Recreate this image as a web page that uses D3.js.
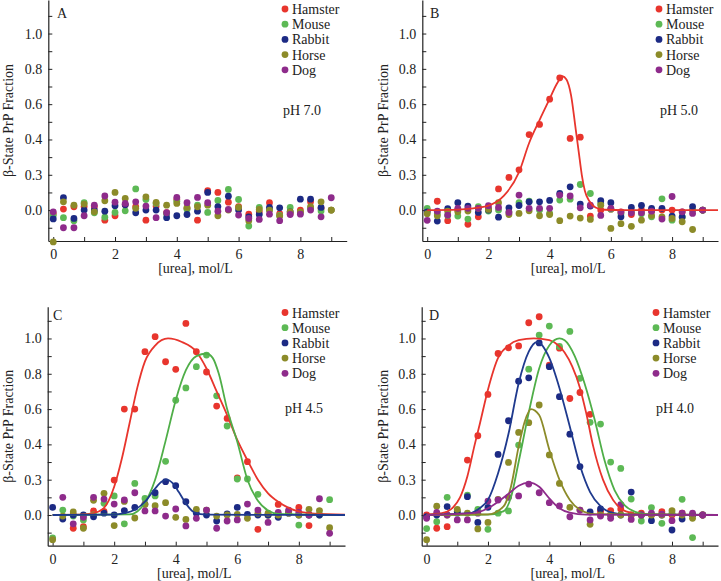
<!DOCTYPE html>
<html><head><meta charset="utf-8">
<script src="https://cdn.jsdelivr.net/npm/d3@7"></script>
<style>body{margin:0;background:#fff}svg{display:block}text{font-family:"Liberation Serif","Times New Roman",serif;fill:#222}</style>
</head><body>
<svg id="c" width="721" height="581"></svg>
<script>
// ---------- data ----------
const species = ["Hamster","Mouse","Rabbit","Horse","Dog"];
const urea = [0,0.33,0.67,1,1.33,1.67,2,2.33,2.67,3,3.33,3.67,4,4.33,4.67,5,5.33,5.67,6,6.33,6.67,7,7.33,7.67,8,8.33,8.67,9];
const yTickVals = [-0.1,0,0.1,0.2,0.3,0.4,0.5,0.6,0.7,0.8,0.9,1.0,1.1];
const yLabelVals = [0,0.2,0.4,0.6,0.8,1.0];
const yLabels = ["0.0","0.3","0.4","0.6","0.8","1.0"];
const xTickVals = [0,1,2,3,4,5,6,7,8,9];
const xLabels = ["0","","2","","4","","6","","8",""];
const panelLetters = ["A","B","C","D"];
const phLabels = ["pH 7.0","pH 5.0","pH 4.5","pH 4.0"];

// Panel A (pH 7.0)
const A_hamster = [-0.02,0.006,0.019,0.02,0.019,-0.057,-0.032,0.03,0.02,-0.057,0.023,-0.015,0.06,0.01,-0.057,0.11,0.1,0.045,0.019,-0.023,-0.01,0.042,-0.02,-0.02,0,0.047,0.01,0];
const A_mouse = [-0.03,-0.043,-0.06,0.042,-0.015,-0.04,-0.013,-0.004,0.12,0.06,0.038,-0.02,0.05,0.005,0.028,-0.013,0.055,0.117,0.06,-0.09,0.015,0,-0.03,0.015,-0.015,0.01,-0.005,0];
const A_rabbit = [-0.05,0.07,-0.047,0,0,-0.006,0.025,0.03,-0.015,0,0,-0.043,-0.032,-0.025,-0.006,0.1,0.02,0.079,0,-0.038,-0.025,0.015,0.013,-0.01,0.062,0.062,0.015,null];
const A_horse = [-0.18,0.047,0.028,0.034,-0.01,0.053,0.1,0.066,0.01,0.075,0.043,0.028,0.038,0.015,0.019,0.028,-0.032,0,0.015,-0.06,0.004,0,-0.034,-0.01,-0.01,0.019,0.047,0];
const A_dog = [-0.01,-0.1,-0.1,-0.032,0.028,0.08,0.045,0.038,0.047,0.023,-0.043,-0.015,0.072,0.042,0.072,0.042,-0.006,0.004,-0.028,-0.047,-0.053,-0.023,-0.06,-0.025,-0.023,0,-0.038,0.07];

// Panel B (pH 5.0)
const B_hamster = [0,0.05,-0.06,0,-0.08,-0.038,0.01,0.12,0.185,0.228,0.428,0.485,0.628,0.749,0.406,0.413,-0.034,0,0.005,-0.01,-0.025,0,-0.005,0,0,-0.01,0,0];
const B_mouse = [0.01,-0.02,-0.03,-0.034,-0.051,0.02,-0.005,0,-0.01,0.042,0.05,0,-0.019,0.057,0.062,0.145,0.094,0.038,0.005,-0.02,-0.01,-0.02,-0.038,0.064,-0.057,-0.04,0,0];
const B_rabbit = [-0.01,-0.062,0.008,0.042,0.023,-0.013,0,-0.04,0.013,0.026,0.047,0.047,0.055,0.094,0.132,0.034,0.023,0.053,0.042,-0.038,0.015,0.026,0.01,0.01,-0.034,-0.038,0.02,0];
const B_horse = [-0.02,-0.032,-0.006,-0.01,-0.005,0.01,0.004,0.042,-0.025,-0.019,-0.004,-0.032,-0.025,-0.06,-0.034,-0.045,-0.053,0.028,-0.104,-0.077,-0.092,-0.057,-0.03,-0.038,-0.047,-0.066,-0.11,0];
const B_dog = [-0.058,-0.006,-0.028,0.01,0.01,0.01,0.025,0.015,-0.013,0.085,0.01,0.01,0.01,0.085,0.08,0.013,0.028,-0.03,0.01,-0.011,-0.015,-0.015,-0.006,-0.051,0.077,-0.01,-0.019,0];

// Panel C (pH 4.5)
const C_hamster = [null,null,-0.075,-0.066,0.023,0.02,0.198,0.6,0.6,0.925,1.01,0.868,0.825,1.085,0.925,0.81,0.617,0.547,0.21,0.302,-0.081,0,0.06,0.02,0.043,-0.06,null,null];
const C_mouse = [-0.13,0.028,-0.006,-0.028,0,0.066,0.108,-0.05,0.179,0.094,0.108,0.304,0.65,0.72,0.84,0.906,0.675,0.504,0.204,0.204,0.117,0,0,0.019,-0.057,0,0,0.087];
const C_rabbit = [0.043,-0.023,0,0,-0.01,0.01,0,0.025,0.043,0.062,0.126,0.189,0.166,0.075,0.01,0,-0.034,0.006,0.043,0.004,0,0,-0.013,0.01,0,0,0,null];
const C_horse = [-0.14,-0.006,0.017,-0.075,0.083,0.123,-0.06,0.077,-0.017,0.06,0.053,0.07,-0.013,-0.025,0.032,0.028,-0.006,0,0.004,-0.019,0.01,0.01,0,0.01,0,0.032,0.025,-0.072];
const C_dog = [null,0.1,-0.05,-0.013,0.1,0.09,0.062,0.085,0.126,0.023,0.023,-0.006,0.034,-0.062,-0.019,0.028,-0.075,-0.034,-0.028,0.062,0.028,-0.042,0.015,0.028,0.015,0,0.092,-0.104];

// Panel D (pH 4.0)
const D_hamster = [0,-0.075,-0.066,0.02,0.311,0.449,0.683,0.915,0.947,0.958,1.089,1.123,0.849,0.945,0.66,0.694,0.57,0.02,0.025,0.034,0,0.01,0,0.019,0,0.01,0,0];
const D_mouse = [-0.077,-0.038,0.1,0.023,0.113,0.032,-0.081,0.01,0.023,0.396,0.826,1.019,1.07,0.955,1.04,0.774,0.525,0.515,0.3,0.264,0.09,-0.034,0.042,-0.047,0.01,0.089,-0.128,null];
const D_rabbit = [-0.01,0,0.047,0.01,0.104,-0.042,0.043,0.343,0.534,0.758,0.777,0.975,0.84,0.67,0.458,0.274,0.017,0.034,0,0,0.13,0,-0.032,0,-0.085,-0.023,0,0];
const D_horse = [-0.14,0.05,0,0.032,0.01,-0.079,-0.042,0.089,0.298,0.468,0.523,0.623,0.34,0.179,0.043,0.028,-0.053,0,0,0,0,0,0,0,0.025,0,-0.019,0];
const D_dog = [-0.019,0.015,0,-0.028,-0.028,0.01,0.079,0.085,0.1,0.108,0.175,0.126,0.07,0.051,-0.01,0.028,-0.028,-0.006,-0.019,0.058,-0.025,0,0.01,0.005,-0.032,0.01,0.01,0];

// fitted curves as [urea, fraction]
const B_fitHamster = [[0,0],[1,0.003],[1.5,0.01],[2,0.025],[2.5,0.08],[3,0.215],[3.33,0.38],[3.67,0.51],[4,0.63],[4.25,0.72],[4.42,0.758],[4.55,0.74],[4.7,0.65],[4.85,0.46],[4.95,0.33],[5.05,0.2],[5.15,0.11],[5.3,0.05],[5.5,0.015],[5.8,0.002],[6.5,0],[9.5,0]];
const C_fitHamster = [[0,0],[1,0.003],[1.33,0.01],[1.67,0.04],[2,0.16],[2.25,0.32],[2.5,0.52],[2.75,0.72],[3,0.87],[3.33,0.96],[3.75,1.0],[4.2,0.98],[4.67,0.925],[5,0.83],[5.33,0.7],[5.67,0.566],[6,0.425],[6.33,0.31],[6.67,0.2],[7,0.123],[7.33,0.075],[7.67,0.04],[8,0.02],[8.5,0.008],[9.5,0.002]];
const C_fitMouse = [[0,0],[2.5,0.003],[2.75,0.02],[3,0.07],[3.33,0.2],[3.67,0.42],[4,0.65],[4.33,0.82],[4.67,0.9],[5,0.915],[5.2,0.89],[5.4,0.8],[5.67,0.6],[6,0.415],[6.33,0.2],[6.67,0.08],[7,0.025],[7.33,0.006],[9.5,0]];
const C_fitRabbit = [[0,0],[2,0.002],[2.33,0.01],[2.67,0.03],[3,0.075],[3.33,0.15],[3.55,0.19],[3.7,0.2],[3.9,0.18],[4.1,0.13],[4.33,0.065],[4.6,0.015],[5,0.002],[9.5,0]];
const D_fitHamster = [[0,0.003],[0.5,0.01],[0.87,0.045],[1.09,0.1],[1.33,0.22],[1.57,0.4],[1.74,0.52],[2,0.71],[2.33,0.89],[2.67,0.96],[3,0.99],[3.5,1.0],[4,0.99],[4.3,0.96],[4.5,0.92],[4.75,0.84],[5,0.72],[5.2,0.58],[5.43,0.39],[5.75,0.2],[6.08,0.085],[6.5,0.02],[7,0.003],[9.5,0]];
const D_fitMouse = [[0,0],[2,0.002],[2.5,0.02],[2.75,0.1],[3,0.3],[3.33,0.58],[3.67,0.83],[4,0.96],[4.33,1.0],[4.5,0.99],[4.83,0.9],[5.15,0.745],[5.48,0.54],[5.8,0.31],[6.13,0.14],[6.46,0.055],[6.8,0.018],[7.2,0.004],[9.5,0]];
const D_fitRabbit = [[0,0],[1.41,0.01],[1.74,0.04],[2,0.085],[2.33,0.236],[2.67,0.46],[3,0.745],[3.33,0.925],[3.6,0.98],[4,0.89],[4.33,0.72],[4.67,0.5],[5,0.28],[5.33,0.13],[5.67,0.05],[6,0.015],[6.5,0.003],[9.5,0]];
const D_fitHorse = [[0,0],[2,0.003],[2.5,0.047],[2.75,0.16],[3,0.387],[3.2,0.53],[3.4,0.6],[3.67,0.566],[4,0.37],[4.33,0.2],[4.67,0.085],[5,0.03],[5.5,0.005],[9.5,0]];
const D_fitDog = [[0,0],[1.5,0.01],[2,0.038],[2.33,0.075],[2.67,0.12],[3,0.166],[3.35,0.183],[3.67,0.16],[4,0.094],[4.33,0.038],[4.67,0.013],[5.2,0.002],[9.5,0]];

// ---------- styling / layout ----------
const dotColors = ["#e8352d","#5db955","#1c2a84","#8c8b29","#8e2b8b"];
const lineColors = ["#e8352d","#4fae48","#1f3a8e","#8c8b29","#8e2b8b"];
const panels = [
  {series:[A_hamster,A_mouse,A_rabbit,A_horse,A_dog], fits:[],
   left:48.3, right:346.7, top:0, bottom:241, ydom:[-0.175,1.19], ytitleX:13, legX:285, legY:9, phX:283, phY:115, letX:57, letY:18},
  {series:[B_hamster,B_mouse,B_rabbit,B_horse,B_dog], fits:[[0,B_fitHamster]],
   left:422.3, right:718, top:0, bottom:241, ydom:[-0.175,1.19], ytitleX:388, legX:659, legY:9, phX:660, phY:115, letX:430, letY:18},
  {series:[C_hamster,C_mouse,C_rabbit,C_horse,C_dog], fits:[[0,C_fitHamster],[1,C_fitMouse],[2,C_fitRabbit]],
   left:47.7, right:345, top:306.7, bottom:545.7, ydom:[-0.174,1.18], ytitleX:13, legX:285, legY:312.5, phX:285, phY:413, letX:53, letY:320},
  {series:[D_hamster,D_mouse,D_rabbit,D_horse,D_dog], fits:[[0,D_fitHamster],[1,D_fitMouse],[2,D_fitRabbit],[3,D_fitHorse],[4,D_fitDog]],
   left:421.7, right:718, top:306.7, bottom:545.7, ydom:[-0.174,1.18], ytitleX:388, legX:656, legY:312.5, phX:656, phY:413, letX:429, letY:320}
];

const svg = d3.select("#c");
panels.forEach((p, pi) => {
  const g = svg.append("g");
  const x = d3.scaleLinear().domain([-0.16, 9.5]).range([p.left, p.right]);
  const y = d3.scaleLinear().domain(p.ydom).range([p.bottom, p.top]);

  const fmtY = v => { const i = yLabelVals.findIndex(t => Math.abs(t - v) < 1e-6); return i < 0 ? "" : yLabels[i]; };
  const fmtX = v => { const i = xTickVals.indexOf(v); return i < 0 ? "" : xLabels[i]; };

  const ya = g.append("g").attr("transform", `translate(${p.left},0)`)
    .call(d3.axisLeft(y).tickValues(yTickVals).tickFormat(fmtY).tickSizeInner(-4).tickSizeOuter(0).tickPadding(6));
  const xa = g.append("g").attr("transform", `translate(0,${p.bottom})`)
    .call(d3.axisBottom(x).tickValues(xTickVals).tickFormat(fmtX).tickSizeInner(-4).tickSizeOuter(0).tickPadding(8));
  [ya, xa].forEach(a => {
    a.select(".domain").attr("stroke", "#222").attr("stroke-width", 1.2);
    a.selectAll(".tick line").attr("stroke", "#222");
    a.selectAll("text").style("font-family", '"Liberation Serif",serif').style("font-size", "14px").attr("fill", "#222");
  });

  // dots
  p.series.forEach((s, si) => {
    g.append("g").selectAll("circle")
      .data(urea.map((u, k) => [u, s[k]]).filter(d => d[1] !== null))
      .join("circle")
      .attr("cx", d => x(d[0])).attr("cy", d => y(d[1])).attr("r", 3.4)
      .attr("fill", dotColors[si]);
  });
  // fitted lines
  const line = d3.line().x(d => x(d[0])).y(d => y(d[1])).curve(d3.curveMonotoneX);
  p.fits.forEach(([si, pts]) => {
    g.append("path").attr("d", line(pts)).attr("fill", "none")
      .attr("stroke", lineColors[si]).attr("stroke-width", 1.8);
  });

  // legend
  species.forEach((sp, si) => {
    const ly = p.legY + si * 15.2;
    g.append("circle").attr("cx", p.legX).attr("cy", ly).attr("r", 3.4).attr("fill", dotColors[si]);
    g.append("text").attr("x", p.legX + 7).attr("y", ly + 5).style("font-size", "14px").text(sp);
  });

  g.append("text").attr("x", p.letX).attr("y", p.letY).style("font-size", "14px").text(panelLetters[pi]);
  g.append("text").attr("x", p.phX).attr("y", p.phY).style("font-size", "14px").text(phLabels[pi]);

  g.append("text").attr("x", (p.left + p.right) / 2 - 2).attr("y", p.bottom + 32)
    .attr("text-anchor", "middle").style("font-size", "14px").text("[urea], mol/L");
  g.append("text").attr("transform", `translate(${p.ytitleX},${(p.top + p.bottom) / 2}) rotate(-90)`)
    .attr("text-anchor", "middle").style("font-size", "14px").text("β-State PrP Fraction");
});
</script>
</body></html>
